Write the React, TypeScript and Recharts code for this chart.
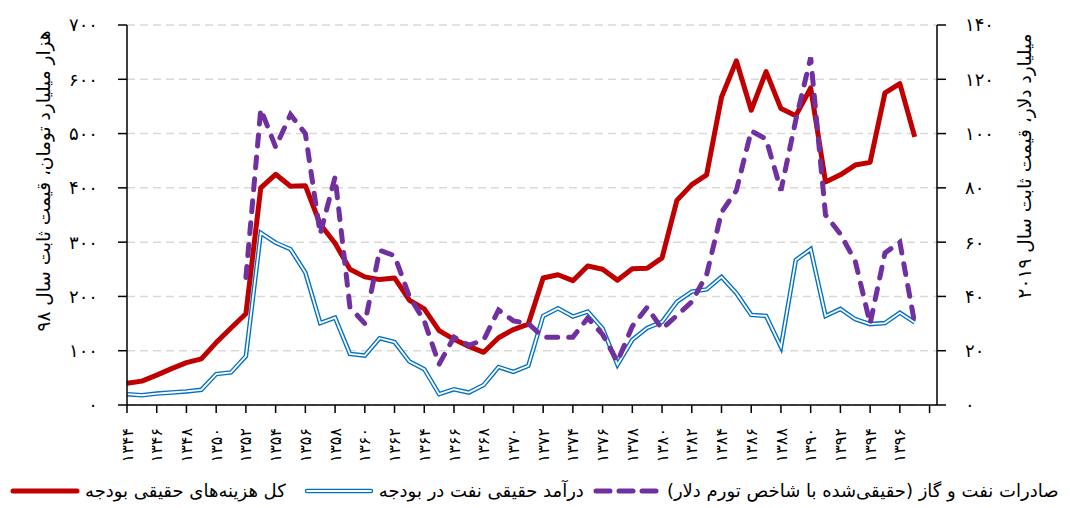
import React from 'react';
import { LineChart, Line, XAxis, YAxis, CartesianGrid, Legend } from 'recharts';

const years = [
  1344, 1345, 1346, 1347, 1348, 1349, 1350, 1351, 1352, 1353,
  1354, 1355, 1356, 1357, 1358, 1359, 1360, 1361, 1362, 1363,
  1364, 1365, 1366, 1367, 1368, 1369, 1370, 1371, 1372, 1373,
  1374, 1375, 1376, 1377, 1378, 1379, 1380, 1381, 1382, 1383,
  1384, 1385, 1386, 1387, 1388, 1389, 1390, 1391, 1392, 1393,
  1394, 1395, 1396, 1397,
];

// کل هزینه‌های حقیقی بودجه (هزار میلیارد تومان)
const totalExpenditure = [
  40, 44, 55, 67, 78, 85, 115, 142, 168, 400,
  425, 403, 404, 333, 298, 250, 236, 231, 234, 193,
  177, 137, 121, 108, 97, 124, 139, 149, 234, 240,
  229, 256, 250, 230, 251, 252, 271, 377, 406, 424,
  567, 634, 543, 614, 546, 533, 584, 411, 424, 442,
  447, 575, 592, 494,
];

// درآمد حقیقی نفت در بودجه (هزار میلیارد تومان)
const oilRevenue = [
  20, 18, 21, 23, 25, 28, 57, 60, 90, 317,
  299, 287, 244, 151, 161, 94, 91, 123, 116, 80,
  66, 20, 29, 23, 37, 70, 61, 72, 164, 178,
  163, 172, 141, 74, 120, 142, 153, 190, 209, 213,
  236, 206, 166, 164, 107, 267, 287, 164, 177, 158,
  149, 151, 170, 152,
];

// صادرات نفت و گاز (میلیارد دلار، قیمت ثابت ۲۰۱۹)
const oilGasExports: (number | null)[] = [
  null, null, null, null, null, null, null, null, 47, 109,
  95, 107, 100, 63, 84, 36, 30, 57, 55, 40,
  31, 15, 25, 22, 24, 35, 31, 30, 25, 25,
  25, 32, 26, 16, 29, 36, 28, 33, 38, 48,
  71, 79, 101, 98, 79, 105, 128, 70, 63, 53,
  30, 56, 60, 30,
];

const xTicks = [
  1344, 1346, 1348, 1350, 1352, 1354, 1356, 1358, 1360, 1362, 1364, 1366, 1368, 1370,
  1372, 1374, 1376, 1378, 1380, 1382, 1384, 1386, 1388, 1390, 1392, 1394, 1396, 1398,
];
const xLabelLast = 1396;
const leftTicks = [0, 100, 200, 300, 400, 500, 600, 700];
const rightTicks = [0, 20, 40, 60, 80, 100, 120, 140];

const seriesNames = {
  total: 'کل هزینه‌های حقیقی بودجه',
  oil: 'درآمد حقیقی نفت در بودجه',
  exports: 'صادرات نفت و گاز (حقیقی‌شده با شاخص تورم دلار)',
};
const leftAxisTitle = 'هزار میلیارد تومان، قیمت ثابت سال ۹۸';
const rightAxisTitle = 'میلیارد دلار، قیمت ثابت سال ۲۰۱۹';

const RED = '#C00000';
const BLUE = '#0070C0';
const PURPLE = '#7030A0';
const FONT = '"DejaVu Sans", sans-serif';

const data = years.map((year, i) => ({
  year,
  total: totalExpenditure[i],
  oil: oilRevenue[i],
  exports: oilGasExports[i],
}));

const faDigits = '۰۱۲۳۴۵۶۷۸۹';
const toFa = (n: number | string) => String(n).replace(/[0-9]/g, (d) => faDigits[Number(d)]);

const XTick = (props: any) => {
  const { x, y, payload } = props;
  if (payload.value > xLabelLast) return null;
  return (
    <text
      x={x}
      y={y}
      transform={`rotate(-90 ${x} ${y})`}
      textAnchor="end"
      dy="0.35em"
      fontSize={16}
      fontFamily={FONT}
      fill="#000"
    >
      {toFa(payload.value)}
    </text>
  );
};

const LeftTitle = (props: any) => {
  const { viewBox } = props;
  const cx = viewBox.x + 36;
  const cy = 173;
  return (
    <text x={cx} y={cy} transform={`rotate(-90 ${cx} ${cy})`} textAnchor="middle" dy="0.35em"
      fontSize={18.5} fontFamily={FONT} fill="#000">
      {leftAxisTitle}
    </text>
  );
};

const RightTitle = (props: any) => {
  const { viewBox } = props;
  const cx = viewBox.x + 88;
  const cy = 158;
  return (
    <text x={cx} y={cy} transform={`rotate(-90 ${cx} ${cy})`} textAnchor="middle" dy="0.35em"
      fontSize={18.5} fontFamily={FONT} fill="#000">
      {rightAxisTitle}
    </text>
  );
};

const Swatch = ({ kind }: { kind: string }) => (
  <svg width={70} height={12} style={{ display: 'block' }}>
    {kind === 'total' && (
      <line x1={3} y1={6} x2={67} y2={6} stroke={RED} strokeWidth={5} strokeLinecap="round" />
    )}
    {kind === 'oil' && (
      <g>
        <line x1={3} y1={6} x2={67} y2={6} stroke={BLUE} strokeWidth={4.5} strokeLinecap="round" />
        <line x1={3} y1={6} x2={67} y2={6} stroke="#fff" strokeWidth={1.8} strokeLinecap="round" />
      </g>
    )}
    {kind === 'exports' && (
      <line x1={4} y1={6} x2={66} y2={6} stroke={PURPLE} strokeWidth={5} strokeLinecap="round"
        strokeDasharray="14 9" />
    )}
  </svg>
);

const legendGaps = [2, 18, 8];

const LegendContent = () => {
  const items: [string, string][] = [
    ['total', seriesNames.total],
    ['oil', seriesNames.oil],
    ['exports', seriesNames.exports],
  ];
  return (
    <div style={{ display: 'flex', alignItems: 'center', direction: 'ltr', fontFamily: FONT, fontSize: 18, color: '#000' }}>
      {items.map(([k, label], i) => (
        <div key={k} style={{ display: 'flex', alignItems: 'center', marginLeft: legendGaps[i] }}>
          <Swatch kind={k} />
          <span style={{ direction: 'rtl', marginLeft: 5, whiteSpace: 'nowrap' }}>{label}</span>
        </div>
      ))}
    </div>
  );
};

export default function App() {
  return (
    <LineChart
      width={1062}
      height={500}
      data={data}
      margin={{ top: 17, right: 0, left: 0, bottom: 43 }}
      style={{ fontFamily: FONT }}
    >
      <CartesianGrid
        yAxisId="left"
        vertical={false}
        stroke="#D9D9D9"
        strokeWidth={1.5}
        strokeDasharray="8 5"
      />
      <XAxis
        dataKey="year"
        type="number"
        domain={[1344, 1398.5]}
        ticks={xTicks}
        interval={0}
        height={60}
        tickSize={8}
        tickMargin={15}
        axisLine={{ stroke: '#000', strokeWidth: 1.5 }}
        tickLine={{ stroke: '#000', strokeWidth: 1.5 }}
        tick={<XTick />}
      />
      <YAxis
        yAxisId="left"
        orientation="left"
        domain={[0, 700]}
        ticks={leftTicks}
        width={119}
        tickSize={9}
        tickMargin={20}
        axisLine={{ stroke: '#000', strokeWidth: 1.5 }}
        tickLine={{ stroke: '#000', strokeWidth: 1.5 }}
        tick={{ fill: '#000', fontSize: 18, fontFamily: FONT }}
        tickFormatter={(v: number) => toFa(v)}
        label={<LeftTitle />}
      />
      <YAxis
        yAxisId="right"
        orientation="right"
        domain={[0, 140]}
        ticks={rightTicks}
        width={133}
        tickSize={9}
        tickMargin={19}
        axisLine={{ stroke: '#000', strokeWidth: 1.5 }}
        tickLine={{ stroke: '#000', strokeWidth: 1.5 }}
        tick={{ fill: '#000', fontSize: 18, fontFamily: FONT }}
        tickFormatter={(v: number) => toFa(v)}
        label={<RightTitle />}
      />
      <Line
        yAxisId="left"
        type="linear"
        dataKey="total"
        name={seriesNames.total}
        stroke={RED}
        strokeWidth={5}
        strokeLinejoin="round"
        dot={false}
        activeDot={false}
        isAnimationActive={false}
      />
      <Line
        yAxisId="left"
        type="linear"
        dataKey="oil"
        name={seriesNames.oil}
        stroke={BLUE}
        strokeWidth={4.5}
        dot={false}
        activeDot={false}
        isAnimationActive={false}
      />
      <Line
        yAxisId="left"
        type="linear"
        dataKey="oil"
        legendType="none"
        stroke="#fff"
        strokeWidth={1.8}
        dot={false}
        activeDot={false}
        isAnimationActive={false}
      />
      <Line
        yAxisId="right"
        type="linear"
        dataKey="exports"
        name={seriesNames.exports}
        stroke={PURPLE}
        strokeWidth={5}
        strokeDasharray="11 11"
        strokeLinecap="round"
        dot={false}
        activeDot={false}
        connectNulls={false}
        isAnimationActive={false}
      />
      <Legend
        verticalAlign="middle"
        layout="horizontal"
        align="center"
        content={<LegendContent />}
        wrapperStyle={{ top: 472, left: 0, width: 1062 }}
      />
    </LineChart>
  );
}
